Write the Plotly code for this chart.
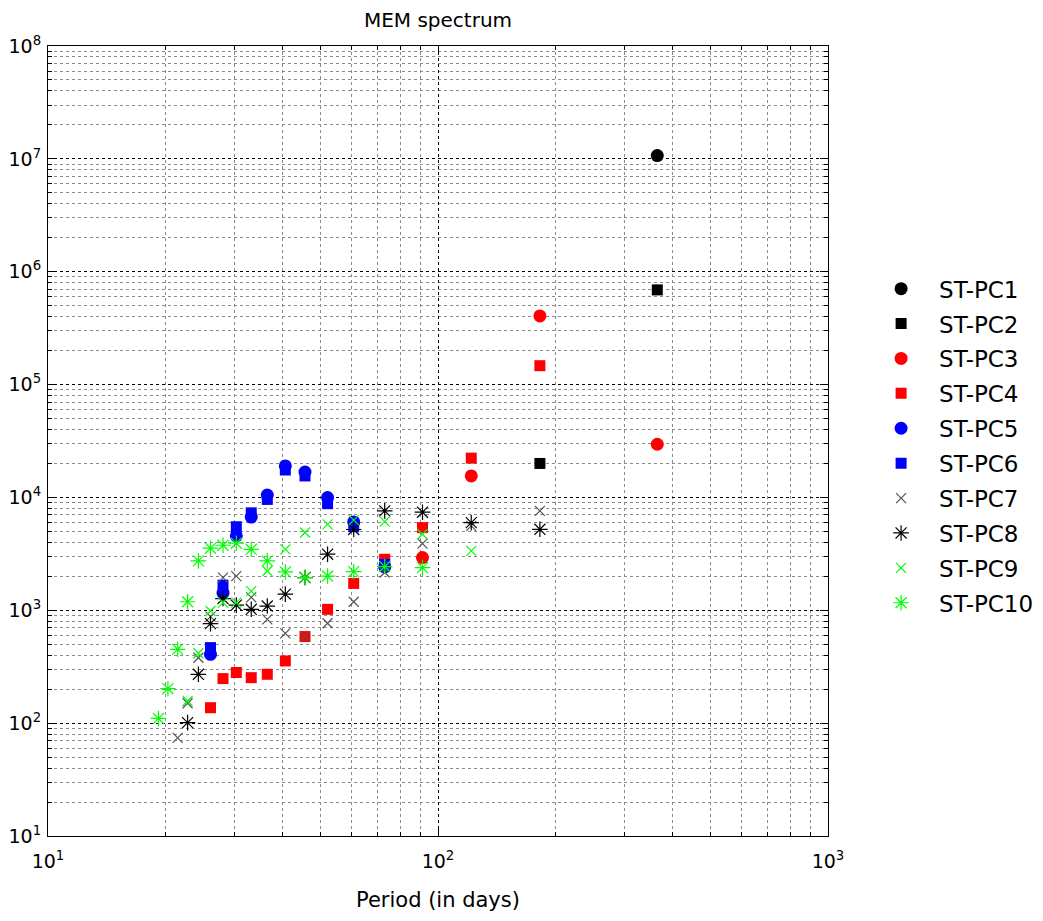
import plotly.graph_objects as go

# Periods (days) of spectral peaks: 365/n
periods = [365.0, 182.5, 121.7, 91.25, 73.0, 60.8, 52.1, 45.6, 40.6, 36.5,
           33.2, 30.4, 28.1, 26.1, 24.3, 22.8, 21.5, 20.3, 19.2]

# Peak powers per series (None = no peak shown)
pc1 = [1.07e7]
pc2 = [6.9e5, 2.0e4]
pc3 = [2.96e4, 4.06e5, 1.55e4, 2.93e3]
pc4 = [None, 1.47e5, 2.23e4, 5.4e3, 2.83e3, 1.73e3, 1.02e3, 585, 356, 271,
       253, 281, 248, 137]
pc5 = [None, None, None, None, 2.42e3, 6.07e3, 9.97e3, 1.68e4, 1.9e4, 1.05e4,
       6.7e3, 4.56e3, 1.42e3, 407]
pc6 = [None, None, None, None, 2.55e3, 5.5e3, 8.8e3, 1.55e4, 1.75e4, 9.6e3,
       7.3e3, 5.5e3, 1.67e3, 467]
pc7 = [None, 7.6e3, 5.6e3, 3.9e3, 2.16e3, 1.19e3, 767, 585, 625, 832,
       1.30e3, 2.01e3, 1.95e3, 880, 380, 150, 74]
pc8 = [None, 5.22e3, 5.98e3, 7.4e3, 7.6e3, 5.2e3, 3.14e3, 1.95e3, 1.39e3, 1.09e3,
       1.02e3, 1.11e3, 1.27e3, 762, 271, 101]
pc9 = [None, None, 3.36e3, 4.72e3, 6.1e3, 6.3e3, 5.78e3, 4.89e3, 3.47e3, 2.23e3,
       1.48e3, 1.17e3, 1.17e3, 986, 416, 157]
pc10 = [None, None, None, 2.39e3, 2.44e3, 2.2e3, 2.01e3, 1.95e3, 2.19e3, 2.74e3,
        3.47e3, 3.93e3, 3.77e3, 3.55e3, 2.74e3, 1.19e3, 451, 202, 110]

names = ["ST-PC1", "ST-PC2", "ST-PC3", "ST-PC4", "ST-PC5",
         "ST-PC6", "ST-PC7", "ST-PC8", "ST-PC9", "ST-PC10"]
series = [pc1, pc2, pc3, pc4, pc5, pc6, pc7, pc8, pc9, pc10]

styles = [
    dict(symbol="circle", color="black", size=13),
    dict(symbol="square", color="black", size=11),
    dict(symbol="circle", color="#ff0000", size=13),
    dict(symbol="square", color="#ff0000", size=11),
    dict(symbol="circle", color="#0000ff", size=13),
    dict(symbol="square", color="#0000ff", size=11),
    dict(symbol="x-thin-open", color="#555555", size=10),
    dict(symbol="asterisk-open", color="black", size=13),
    dict(symbol="x-thin-open", color="#00ff00", size=10),
    dict(symbol="asterisk-open", color="#00ff00", size=13),
]

fig = go.Figure()
for name, vals, st in zip(names, series, styles):
    xs = [p for p, v in zip(periods, vals) if v is not None]
    ys = [v for v in vals if v is not None]
    open_sym = st["symbol"].endswith("open")
    marker = dict(symbol=st["symbol"], size=st["size"], color=st["color"])
    if open_sym:
        marker["line"] = dict(color=st["color"], width=1.2)
    else:
        marker["line"] = dict(width=0)
    fig.add_trace(go.Scatter(x=xs, y=ys, mode="markers", name=name,
                             legendgroup=name, marker=marker))

minor_x = [m * 10 ** e for e in (1, 2) for m in range(2, 10)]
minor_y = [m * 10 ** e for e in range(1, 8) for m in range(2, 10)]

fig.update_layout(
    width=1043, height=921,
    margin=dict(l=48, r=215, t=46, b=85, autoexpand=False),
    paper_bgcolor="white", plot_bgcolor="white",
    font=dict(family="DejaVu Sans", color="black"),
    title=dict(text="MEM spectrum", x=(48 + 390) / 1043, xanchor="center",
               y=1 - 20 / 921, yanchor="middle",
               font=dict(size=20, family="DejaVu Sans")),
    showlegend=True,
    legend=dict(x=1.045, y=0.72, xanchor="left", yanchor="top",
                font=dict(size=23), tracegroupgap=2, itemwidth=66,
                bgcolor="rgba(0,0,0,0)", borderwidth=0),
    xaxis=dict(type="log", range=[1, 3], showline=True, linecolor="black",
               linewidth=1, mirror="ticks", ticks="inside", ticklen=8,
               tickcolor="black", automargin=False,
               tickvals=[10, 100, 1000],
               ticktext=["10<sup>1</sup>", "10<sup>2</sup>", "10<sup>3</sup>"],
               tickfont=dict(size=19), ticklabelstandoff=8,
               showgrid=True, gridcolor="black", griddash="dot", gridwidth=1,
               zeroline=False,
               minor=dict(tickvals=minor_x, ticks="inside", ticklen=4,
                          tickcolor="black", showgrid=True,
                          gridcolor="#8a8a8a", griddash="dot", gridwidth=1)),
    yaxis=dict(type="log", range=[1, 8], showline=True, linecolor="black",
               linewidth=1, mirror="ticks", ticks="inside", ticklen=8,
               tickcolor="black", automargin=False,
               tickvals=[10 ** e for e in range(1, 9)],
               ticktext=["10<sup>%d</sup>" % e for e in range(1, 9)],
               tickfont=dict(size=19), ticklabelstandoff=2,
               showgrid=True, gridcolor="black", griddash="dot", gridwidth=1,
               zeroline=False,
               minor=dict(tickvals=minor_y, ticks="inside", ticklen=4,
                          tickcolor="black", showgrid=True,
                          gridcolor="#8a8a8a", griddash="dot", gridwidth=1)),
    annotations=[dict(text="Period (in days)", xref="paper", yref="paper",
                      x=0.5, y=-64 / 790, xanchor="center", yanchor="middle",
                      showarrow=False, font=dict(size=21))],
)

fig.write_html("out.html")
